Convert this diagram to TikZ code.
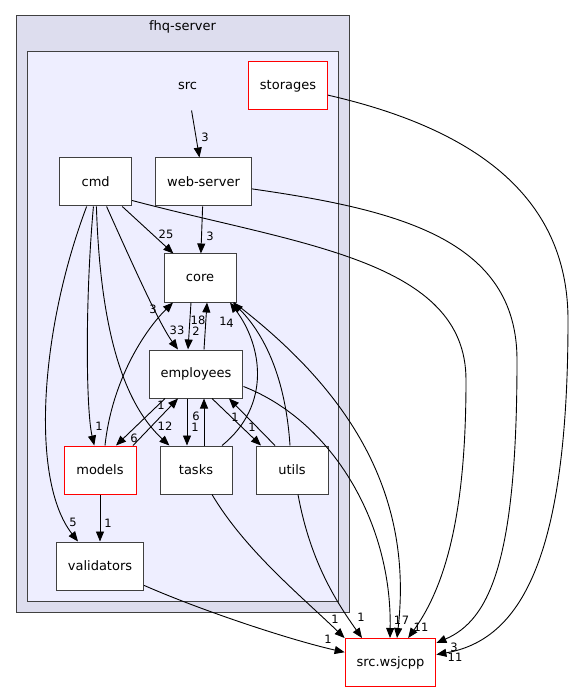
\documentclass[tikz,border=0pt]{standalone}
\usepackage{fontspec}
\setmainfont{DejaVu Sans}
\usetikzlibrary{positioning,arrows.meta}
\definecolor{clusterout}{HTML}{DDDDEE}
\definecolor{clusterin}{HTML}{EEEEFF}
\definecolor{boxline}{HTML}{404040}
\tikzset{dir/.style = {draw=boxline, fill=white, line width=1pt, minimum width=72pt, minimum height=48pt, inner xsep=11.5pt, font=\fontsize{13}{15}\selectfont}}
\tikzset{dirred/.style = {dir, draw=red}}
\tikzset{plain/.style = {minimum height=48pt, font=\fontsize{13}{15}\selectfont}}
\tikzset{lbl/.style = {inner sep=0pt, font=\fontsize{11.5}{13}\selectfont}}
\tikzset{cluster/.style = {draw=boxline, line width=1pt}}

\begin{document}
\begin{tikzpicture}[>={Triangle[length=10pt, width=8pt]}, x=1pt, y=-1pt, node distance=47pt, line width=0.9pt]
  \useasboundingbox (0,0) rectangle (573,692);
  \draw[cluster, fill=clusterout] (16,16) rectangle (349,612);
  \node[plain, minimum height=0pt] (fhq) at (182.5,27) {fhq-server};
  \draw[cluster, fill=clusterin] (27,52) rectangle (338,601);

  \node [dir] (core) at (200,278) {core};
  \node [dir, above=of core, xshift=3.5pt] (web) {web-server};
  \node [dir, left=23pt of web] (cmd) {cmd};
  \node [plain, above=of web, xshift=-16pt] (src) {src};
  \node [dirred] (storages) at (288,86) {storages};
  \node [dir, below=of core, xshift=-4pt] (employees) {employees};
  \node [dir, below=of employees] (tasks) {tasks};
  \node [dirred, left=23pt of tasks] (models) {models};
  \node [dir, right=23pt of tasks] (utils) {utils};
  \node [dir, below=of models] (validators) {validators};
  \node [dirred] (wsjcpp) at (390.5,662.5) {src.wsjcpp};

  \draw[->] (src) -- (web) node[lbl] at (205,137) {3};
  \draw[->] (cmd) -- (core) node[lbl] at (166,234) {25};
  \draw[->] (web) -- (core) node[lbl] at (210,236) {3};
  \draw[->] ([yshift=-18.5pt]cmd.east) .. controls (300,245) and (466,260) .. (466,380) .. controls (466,500) and (450,580) .. (wsjcpp) node[lbl] at (421,627) {11};
  \draw[->] (web) .. controls (400,210) and (517,240) .. (517,360) .. controls (517,560) and (490,620) .. (wsjcpp) node[lbl] at (454,647) {3};
  \draw[->] (storages) .. controls (480,130) and (568,200) .. (568,320) .. controls (568,560) and (520,640) .. (wsjcpp) node[lbl] at (455,657) {11};

  \draw[->] (cmd) .. controls (135,270) and (160,325) .. (employees) node[lbl] at (177,330) {33};
  \draw[->] (cmd) .. controls (85,300) and (86,410) .. (models) node[lbl] at (99,426) {1};
  \draw[->] (cmd) .. controls (100,320) and (120,400) .. (tasks) node[lbl] at (165,426) {12};
  \draw[->] ([xshift=-9pt]cmd.south) .. controls (40,330) and (30,480) .. ([xshift=-22pt]validators.north) node[lbl] at (73,522) {5};

  \draw[->] ([xshift=-9pt]core.south) -- ([xshift=-8pt]employees.north) node[lbl] at (196,331) {2};
  \draw[->] ([xshift=8pt]employees.north) -- ([xshift=7pt]core.south) node[lbl] at (198,320) {18};
  \draw[->] ([xshift=5pt]models.north) .. controls (112,380) and (145,330) .. ([xshift=-27pt]core.south) node[lbl] at (153,309) {3};
  \draw[->] ([xshift=26pt]tasks.north) .. controls (272,405) and (262,345) .. ([xshift=30pt]core.south) node[lbl] at (223,321) {1};
  \draw[->] ([xshift=-2pt]utils.north) .. controls (285,370) and (260,330) .. ([xshift=33pt]core.south) node[lbl] at (230,323) {4};
  \draw[->] ([xshift=34pt]core.south) .. controls (335,380) and (415,480) .. ([xshift=6.5pt]wsjcpp.north) node[lbl] at (405.5,620) {7};
  \draw[->] ([yshift=-12.5pt]employees.east) .. controls (330,420) and (392,520) .. ([xshift=-0.5pt]wsjcpp.north) node[lbl] at (397.5,620) {1};

  \draw[->] ([xshift=-31pt]employees.south) -- ([xshift=16pt]models.north) node[lbl] at (134,438) {6};
  \draw[->] ([xshift=33pt]models.north) -- ([xshift=-18pt]employees.south) node[lbl] at (161,405) {1};
  \draw[->] ([xshift=-9pt]employees.south) -- ([xshift=-9pt]tasks.north) node[lbl] at (195,427) {1};
  \draw[->] ([xshift=8pt]tasks.north) -- ([xshift=8pt]employees.south) node[lbl] at (196,416) {6};
  \draw[->] ([xshift=16pt]employees.south) -- ([xshift=-31pt]utils.north) node[lbl] at (252,427) {1};
  \draw[->] ([xshift=-17pt]utils.north) -- ([xshift=33pt]employees.south) node[lbl] at (235,417) {1};
  \draw[->] (models) -- (validators) node[lbl] at (108,523) {1};

  \draw[->] ([xshift=16pt]tasks.south) .. controls (245,550) and (300,595) .. (wsjcpp.north west) node[lbl] at (335,619) {1};
  \draw[->] ([xshift=6pt]utils.south) .. controls (310,560) and (335,600) .. ([xshift=-28.5pt]wsjcpp.north) node[lbl] at (361,617) {1};
  \draw[->] (validators) .. controls (200,610) and (290,640) .. (wsjcpp) node[lbl] at (328,639) {1};
\end{tikzpicture}
\end{document}
